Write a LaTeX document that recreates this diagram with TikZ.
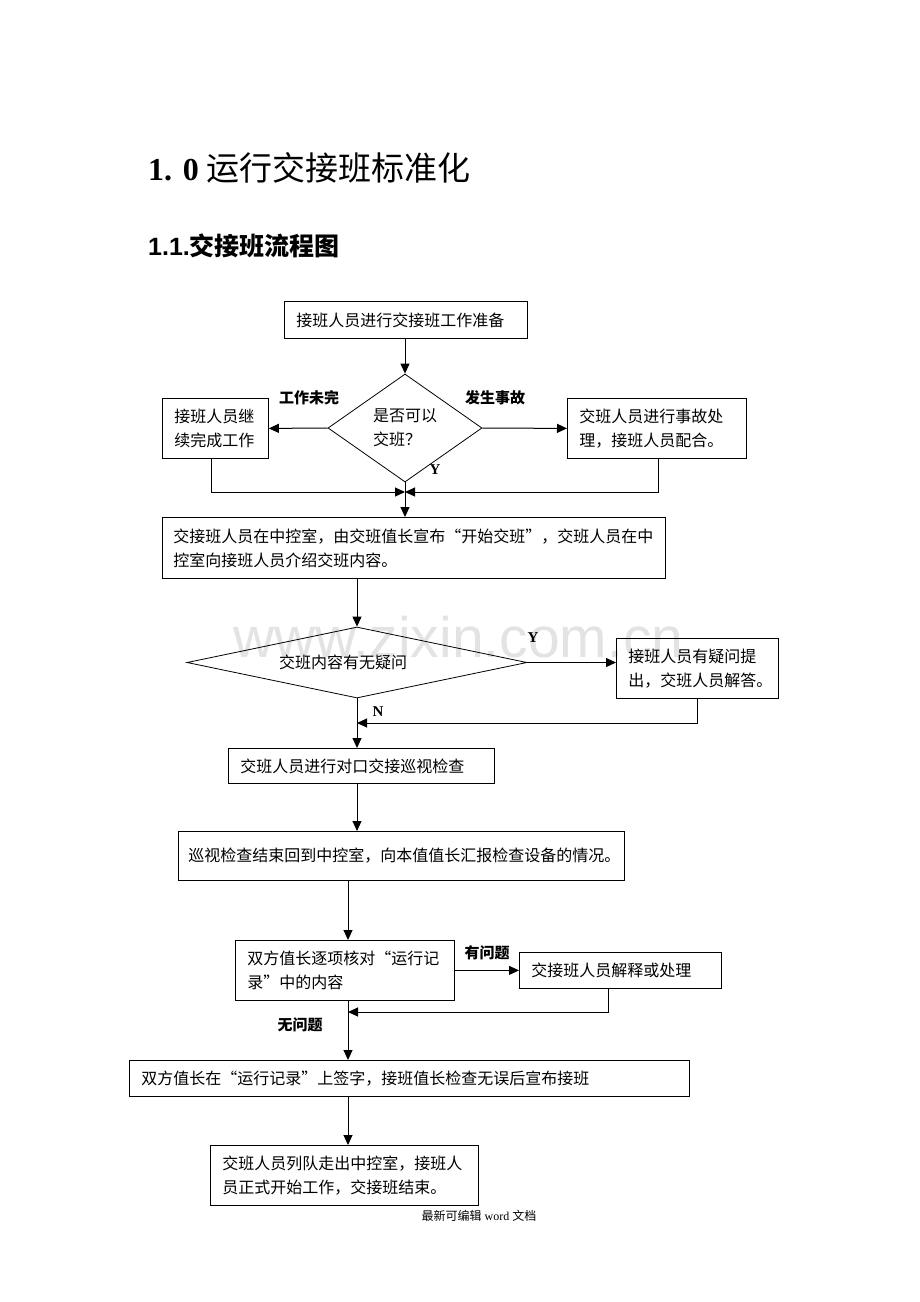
\documentclass[tikz,border=0pt]{standalone}
\usepackage{fontspec}
\setmainfont{Liberation Serif}
\setsansfont{Liberation Sans}
\newfontfamily\cjk{Noto Sans CJK SC}
\usetikzlibrary{shapes.geometric,arrows.meta}

\begin{document}
\begin{tikzpicture}[x=1pt,y=-1pt,
  box/.style={draw,line width=0.8pt,anchor=north west,inner xsep=12pt,inner ysep=0pt,
    align=left,font=\cjk\fontsize{16}{24}\selectfont},
  dec/.style={draw,line width=0.8pt,shape=diamond,inner sep=0pt,align=left,
    font=\cjk\fontsize{16}{24}\selectfont},
  lbl/.style={font=\cjk\bfseries\fontsize{15}{18}\selectfont},
  yn/.style={font=\rmfamily\bfseries\fontsize{15}{18}\selectfont},
  arr/.style={line width=1pt,-{Triangle[length=10pt,width=9pt]}}]
\useasboundingbox (0,0) rectangle (920,1302);
% watermark and headings
\node[anchor=base west,text=black!11,font=\sffamily\fontsize{57}{60}\selectfont]
  (wm) at (230,657) {www.zixin.com.cn};
\node[anchor=base west,inner sep=0pt,font=\bfseries\fontsize{32}{36}\selectfont]
  (ttl) at (148,180) {1. 0 {\cjk\mdseries\fontsize{33}{36}\selectfont 运行交接班标准化}};
\node[anchor=base west,inner sep=0pt,font=\sffamily\bfseries\fontsize{25}{28}\selectfont]
  (sub) at (148,255) {1.1.{\cjk 交接班流程图}};
% boxes
\node[box,text width=219pt,minimum height=37pt] (b1) at (284,301) {接班人员进行交接班工作准备};
\node[dec,aspect=1.4,minimum width=154pt,minimum height=108pt] (d1) at (405,428) {是否可以\\交班？};
\node[box,text width=82pt,minimum height=60pt] (l1) at (162,398) {接班人员继\\续完成工作};
\node[box,text width=155pt,minimum height=60pt] (r1) at (567,398) {交班人员进行事故处\\理，接班人员配合。};
\node[box,inner xsep=11pt,text width=481pt,minimum height=61pt] (b2) at (162,517)
  {交接班人员在中控室，由交班值长宣布“开始交班”，交班人员在中\\控室向接班人员介绍交班内容。};
\node[dec,aspect=4.8,minimum width=340pt,minimum height=71pt] (d2) at (357,662.5)
  {交班内容有无疑问\hspace*{28pt}};
\node[box,text width=138pt,minimum height=60pt] (r2) at (616,638) {接班人员有疑问提\\出，交班人员解答。};
\node[box,text width=242pt,minimum height=35pt] (b3) at (228,748) {交班人员进行对口交接巡视检查};
\node[box,inner xsep=10pt,text width=426pt,minimum height=49pt] (b4) at (178,831)
  {巡视检查结束回到中控室，向本值值长汇报检查设备的情况。};
\node[box,text width=195pt,minimum height=60pt] (b5) at (235,940) {双方值长逐项核对“运行记\\录”中的内容};
\node[box,text width=178pt,minimum height=36pt] (r5) at (519,952) {交接班人员解释或处理};
\node[box,text width=536pt,minimum height=36pt] (b6) at (129,1060)
  {双方值长在“运行记录”上签字，接班值长检查无误后宣布接班};
\node[box,text width=244pt,minimum height=60pt] (b7) at (210,1145)
  {交班人员列队走出中控室，接班人\\员正式开始工作，交接班结束。};
% labels
\node[lbl] (t1) at (309,398) {工作未完};
\node[lbl] (t2) at (495,398) {发生事故};
\node[yn] (y1) at (435,470) {Y};
\node[yn] (y2) at (533,638) {Y};
\node[yn] (n1) at (378,712) {N};
\node[lbl] (t3) at (487,953) {有问题};
\node[lbl] (t4) at (300,1025) {无问题};
\node[font=\fontsize{12}{14}\selectfont] (foot) at (479,1216) {{\cjk 最新可编辑} word {\cjk 文档}};
% connectors
\coordinate (m1) at (405,492);
\coordinate (m2) at (357,723);
\coordinate (m3) at (348,1012);
\coordinate (c3) at (348,0);
\draw[arr] (b1.south -| d1.north) -- (d1.north);
\draw[arr] (d1.west) -- (l1.east);
\draw[arr] (d1.east) -- (r1.west);
\draw[arr] ([xshift=-4pt]l1.south) |- (m1);
\draw[arr] ([xshift=2pt]r1.south) |- (m1);
\draw[arr] (d1.south) -- (d1.south |- b2.north);
\draw[arr] (b2.south -| d2.north) -- (d2.north);
\draw[arr] (d2.east) -- (d2.east -| r2.west);
\draw[arr] (r2.south) |- (m2);
\draw[arr] (d2.south) -- (d2.south |- b3.north);
\draw[arr] (d2.south |- b3.south) -- (d2.south |- b4.north);
\draw[arr] (c3 |- b4.south) -- (c3 |- b5.north);
\draw[arr] (b5.east) -- (b5.east -| r5.west);
\draw[arr] ([xshift=-12pt]r5.south) |- (m3);
\draw[arr] (c3 |- b5.south) -- (c3 |- b6.north);
\draw[arr] (c3 |- b6.south) -- (c3 |- b7.north);
\end{tikzpicture}
\end{document}
